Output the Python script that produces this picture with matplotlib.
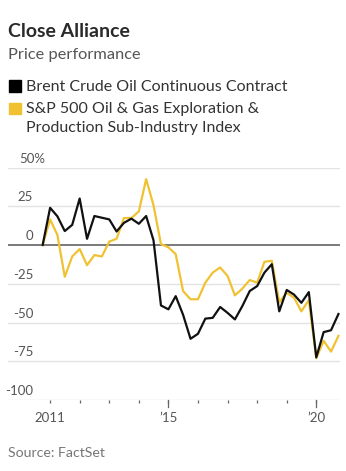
import numpy as np
import pandas as pd
import matplotlib
matplotlib.use("Agg")
import matplotlib.pyplot as plt
import matplotlib.dates as mdates
import matplotlib.transforms as mtransforms
from matplotlib.patches import Rectangle

# quarterly observations, Oct 2010 .. Oct 2020
dates = pd.date_range("2010-10-01", periods=41, freq="QS")

brent = [0, 24, 18.5, 9, 13, 30, 4, 18.7, 17.6, 16.5,
         8.7, 14.3, 17, 13.7, 18.7, 3, -39, -41.5, -33, -45,
         -60.5, -57.3, -47.5, -47, -40, -43.8, -48, -39.5, -29.7, -26.5,
         -17.8, -12.4, -42.8, -29, -32, -37.3, -30.4, -72.5, -56.2, -55,
         -44.5]
sp_oil_gas = [0, 16.5, 6.5, -20.5, -7.4, -2.6, -13, -6.5, -7.4, 2.2,
              4, 17.4, 17.4, 21.7, 42.5, 25.6, 0.6, -1.5, -5.9, -29.7,
              -35, -35, -24.3, -17.8, -14.5, -20, -32.5, -28.2, -22.6, -24.3,
              -10.8, -10.2, -37, -30.8, -34, -42.8, -35.6, -73, -61.8, -68.8,
              -58.6]

yticks = [50, 25, 0, -25, -50, -75, -100]
ylabels = ["50%", "25", "0", "-25", "-50", "-75", "-100"]
xlabels = {2011: "2011", 2015: "\u201915", 2020: "\u201920"}

W, H = 346, 471
plt.rcParams["font.family"] = ["Lato", "DejaVu Sans"]

fig = plt.figure(figsize=(W / 100, H / 100), dpi=100)


def fx(px):
    return px / W


def fy(py):
    return 1 - py / H


# header
fig.text(fx(8), fy(37), "Close Alliance", fontsize=14, fontweight="bold",
         color="#2a2a2a", va="baseline")
fig.text(fx(8), fy(59), "Price performance", fontsize=11.8, color="#555555",
         va="baseline")

# legend
fig.patches.append(Rectangle((fx(9), fy(91.5)), 12 / W, 11.5 / H,
                             transform=fig.transFigure, color="#000000"))
fig.patches.append(Rectangle((fx(9), fy(114.3)), 12 / W, 11.5 / H,
                             transform=fig.transFigure, color="#F0C232"))
leg_kw = dict(fontsize=11.5, color="#333333", va="baseline")
fig.text(fx(26), fy(91), "Brent Crude Oil Continuous Contract", **leg_kw)
fig.text(fx(26), fy(113.5), "S&P 500 Oil & Gas Exploration &", **leg_kw)
fig.text(fx(26), fy(132), "Production Sub-Industry Index", **leg_kw)

# chart area
ax = fig.add_axes([fx(8), fy(400), (340 - 8) / W, (400 - 167.5) / H])
ax.set_ylim(-100, 50)
ax.set_xlim(mdates.date2num(pd.Timestamp("2009-07-30")),
            mdates.date2num(pd.Timestamp("2020-10-20")))

for v in yticks:
    if v == 0:
        ax.axhline(v, color="#7a7a7a", lw=1.4, zorder=1)
    else:
        ax.axhline(v, color="#e3e3e3", lw=1.0, zorder=0)

ax.plot(dates, sp_oil_gas, color="#F0C232", lw=1.6, zorder=3, clip_on=False)
ax.plot(dates, brent, color="#111111", lw=1.6, zorder=4, clip_on=False)

for spine in ax.spines.values():
    spine.set_visible(False)
ax.set_yticks([])

years = list(range(2011, 2021))
ax.set_xticks([mdates.date2num(pd.Timestamp(f"{y}-01-01")) for y in years])
ax.set_xticklabels(["" for y in years])
ax.tick_params(axis="x", length=2.5, width=0.9, color="#666666", pad=2)
for y, lab in xlabels.items():
    ax.annotate(lab, (mdates.date2num(pd.Timestamp(f"{y}-01-01")), -100),
                xytext=(0, -15.6), textcoords="offset points",
                ha="center", va="baseline", fontsize=9.5, color="#555555",
                annotation_clip=False)
# longer ticks for labelled years
for y in (2015, 2020):
    ax.plot([mdates.date2num(pd.Timestamp(f"{y}-01-01"))] * 2, [-100, -104.5],
            color="#666666", lw=0.9, clip_on=False)

# y labels sitting above gridlines, right-aligned numbers, % hanging out
trans = mtransforms.blended_transform_factory(ax.transAxes, ax.transData)
num_right = (33 - 8) / (340 - 8)
for v, lab in zip(yticks, ylabels):
    if lab.endswith("%"):
        ax.text((19 - 8) / (340 - 8), v + 1.8, lab, transform=trans,
                ha="left", va="bottom", fontsize=9.5, color="#555555")
    else:
        ax.text(num_right, v + 1.8, lab, transform=trans, ha="right",
                va="bottom", fontsize=9.5, color="#555555")

fig.text(fx(8), fy(457), "Source: FactSet", fontsize=10.2, color="#777777",
         va="baseline")

fig.savefig("out.png", dpi=100)
